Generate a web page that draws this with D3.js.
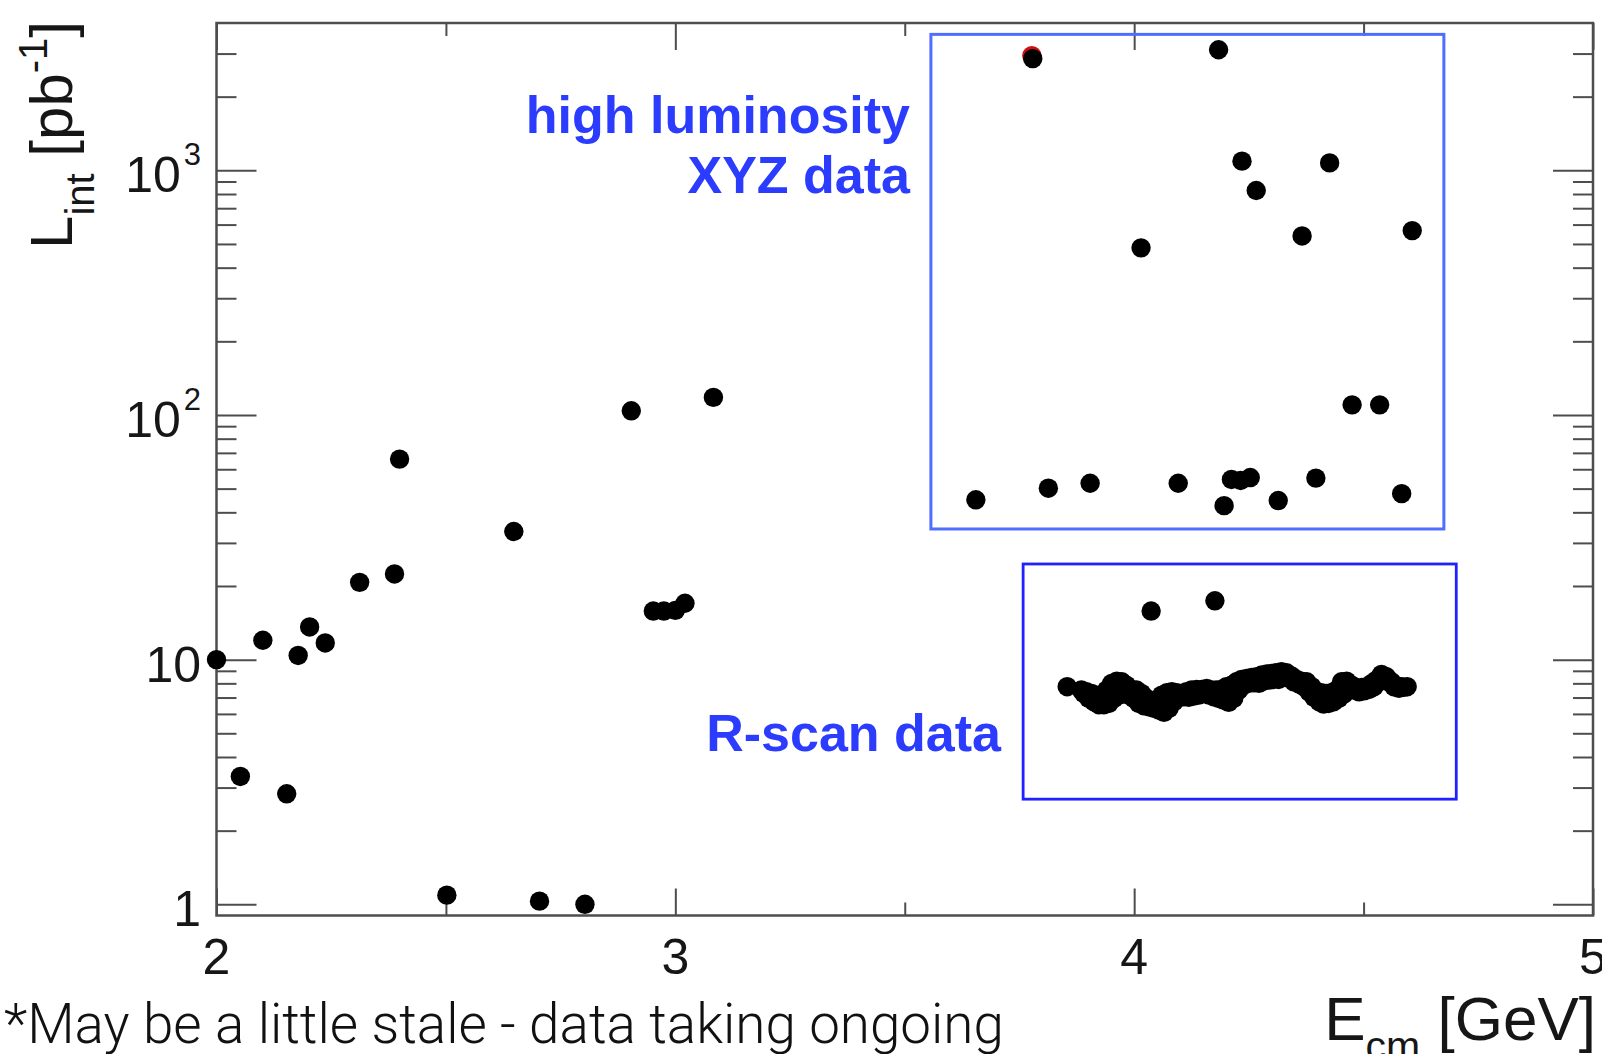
<!DOCTYPE html>
<html>
<head>
<meta charset="utf-8">
<script src="https://cdn.jsdelivr.net/npm/d3@7"></script>
<style>
  html, body { margin: 0; padding: 0; background: #fff; overflow: hidden; }
  svg { display: block; }
</style>
</head>
<body>
<svg id="chart" width="1602" height="1054"></svg>
<script>
// Integrated luminosity per centre-of-mass energy point (E in GeV, L in pb^-1)

// scan points between 2.0 and 3.1 GeV
const lowE = [2.000, 2.052, 2.101, 2.153, 2.178, 2.203, 2.237, 2.312, 2.388, 2.399,
              2.502, 2.648, 2.704, 2.803, 2.904, 2.952, 2.975, 3.000, 3.021, 3.083];
const lowL = [10.0, 3.33, 12.0, 2.83, 10.4, 13.6, 11.7, 20.7, 22.4, 66.0,
              1.09, 33.4, 1.03, 1.00, 104, 15.8, 15.8, 15.9, 17.0, 118];

// high-luminosity XYZ data sets
const xyzE = [3.655, 3.779, 3.813, 3.904, 4.015, 4.096, 4.184, 4.196, 4.212, 4.232,
              4.253, 4.235, 4.266, 4.314, 4.366, 4.396, 4.426, 4.475, 4.535, 4.583, 4.606];
const xyzL = [45.0, 2860, 50.2, 52.6, 482, 52.6, 3110, 42.6, 54.5, 54.0,
              55.5, 1090, 827, 44.7, 539, 55.2, 1072, 110, 110, 47.7, 567];

// marker drawn beneath the psi(3770) point
const redE = [3.777];
const redL = [2940];

// R-scan points, 3.85 - 4.60 GeV
const rScanE = [3.854,
  3.885, 3.890, 3.896, 3.901, 3.907, 3.912, 3.918, 3.923, 3.929, 3.934,
  3.940, 3.945, 3.951, 3.956, 3.962, 3.967, 3.973, 3.978, 3.983, 3.988,
  3.994, 3.999, 4.005, 4.010, 4.016, 4.021, 4.027, 4.032, 4.038, 4.043,
  4.049, 4.054, 4.060, 4.065, 4.071, 4.076, 4.082, 4.087, 4.093, 4.098,
  4.103, 4.108, 4.114, 4.119, 4.125, 4.130, 4.136, 4.141, 4.147, 4.152,
  4.158, 4.163, 4.169, 4.174, 4.179, 4.184, 4.190, 4.195, 4.201, 4.206,
  4.212, 4.217, 4.223, 4.228, 4.234, 4.239, 4.245, 4.250, 4.256, 4.261,
  4.267, 4.272, 4.278, 4.283, 4.289, 4.294, 4.299, 4.304, 4.310, 4.315,
  4.321, 4.326, 4.332, 4.337, 4.343, 4.348, 4.354, 4.359, 4.365, 4.370,
  4.376, 4.381, 4.387, 4.392, 4.398, 4.403, 4.408, 4.413, 4.419, 4.424,
  4.430, 4.435, 4.441, 4.446, 4.452, 4.457, 4.463, 4.468, 4.474, 4.479,
  4.485, 4.490, 4.496, 4.501, 4.507, 4.512, 4.518, 4.523, 4.528, 4.533,
  4.539, 4.544, 4.550, 4.555, 4.561, 4.566, 4.572, 4.577, 4.583, 4.588,
  4.595,
  4.037, 4.176];
const rScanL = [7.75,
  7.51, 7.28, 7.39, 6.94, 7.28, 6.73, 7.16, 6.54, 6.94, 6.54,
  7.51, 6.62, 8.00, 6.94, 8.17, 7.16, 8.12, 7.28, 7.87, 7.16,
  7.55, 6.94, 7.51, 6.62, 7.28, 6.48, 6.94, 6.42, 6.66, 6.32,
  6.83, 6.22, 7.16, 6.09, 7.32, 6.32, 7.39, 6.73, 7.32, 7.01,
  7.28, 7.05, 7.39, 7.01, 7.51, 7.10, 7.55, 7.16, 7.55, 7.28,
  7.63, 7.16, 7.51, 7.05, 7.51, 6.94, 7.55, 6.83, 7.75, 6.69,
  7.87, 6.94, 8.12, 7.51, 8.30, 7.87, 8.38, 8.00, 8.46, 8.05,
  8.51, 8.00, 8.65, 8.20, 8.73, 8.25, 8.79, 8.30, 8.84, 8.30,
  8.92, 8.51, 8.84, 8.38, 8.57, 8.12, 8.30, 7.95, 8.17, 7.75,
  8.12, 7.39, 7.75, 7.01, 7.39, 6.73, 7.32, 6.58, 7.28, 6.62,
  7.32, 6.73, 7.51, 6.94, 8.12, 7.23, 8.17, 7.51, 7.87, 7.51,
  7.51, 7.39, 7.70, 7.46, 7.75, 7.55, 8.00, 7.75, 8.25, 8.12,
  8.70, 8.46, 8.51, 8.12, 8.12, 7.75, 7.80, 7.63, 7.75, 7.70,
  7.75,
  15.8, 17.4];

// axis ticks
const eMajor = [2, 3, 4, 5];
const eMinor = [2.5, 3.5, 4.5];
const eTickLabels = ["2", "3", "4", "5"];
const lMajor = [1, 10, 100, 1000];
const lMinor = [2, 3, 4, 5, 6, 7, 8, 9, 20, 30, 40, 50, 60, 70, 80, 90,
                200, 300, 400, 500, 600, 700, 800, 900, 2000, 3000];
const lTickBase = ["1", "10", "10", "10"];
const lTickExp = ["", "", "2", "3"];

// highlighted regions [Emin, Emax, Lmin, Lmax]
const xyzRegion = [3.557, 4.675, 34.2, 3594];
const rScanRegion = [3.758, 4.702, 2.69, 24.6];

const FONT = "'Liberation Sans', Arial, Helvetica, sans-serif";
const INK = "#161616";
const AXIS = "#4d4d4d";

const svg = d3.select("#chart");
const x = d3.scaleLinear().domain([2, 5]).range([216.5, 1593]);
const y = d3.scaleLog().domain([0.9, 4000]).range([915.5, 23]);
const [x0, x1] = x.range();
const [yb, yt] = y.range();

// tick marks on all four sides
function ticks(axis, tx, ty) {
  const g = svg.append("g").attr("transform", `translate(${tx},${ty})`).call(axis);
  g.select(".domain").remove();
  g.selectAll(".tick text").remove();
  g.selectAll(".tick line").attr("stroke", AXIS).attr("stroke-width", 2);
}
ticks(d3.axisLeft(y).tickValues(lMajor).tickSizeInner(-40).tickSizeOuter(0), x0, 0);
ticks(d3.axisLeft(y).tickValues(lMinor).tickSizeInner(-20).tickSizeOuter(0), x0, 0);
ticks(d3.axisRight(y).tickValues(lMajor).tickSizeInner(-40).tickSizeOuter(0), x1, 0);
ticks(d3.axisRight(y).tickValues(lMinor).tickSizeInner(-20).tickSizeOuter(0), x1, 0);
ticks(d3.axisBottom(x).tickValues(eMajor).tickSizeInner(-27).tickSizeOuter(0), 0, yb);
ticks(d3.axisBottom(x).tickValues(eMinor).tickSizeInner(-13).tickSizeOuter(0), 0, yb);
ticks(d3.axisTop(x).tickValues(eMajor).tickSizeInner(-27).tickSizeOuter(0), 0, yt);
ticks(d3.axisTop(x).tickValues(eMinor).tickSizeInner(-13).tickSizeOuter(0), 0, yt);

// frame
svg.append("rect")
  .attr("x", x0).attr("y", yt)
  .attr("width", x1 - x0).attr("height", yb - yt)
  .attr("fill", "none").attr("stroke", AXIS).attr("stroke-width", 2.5);

// x tick labels
svg.append("g").selectAll("text").data(eMajor).join("text")
  .attr("x", d => x(d)).attr("y", 974)
  .attr("text-anchor", "middle")
  .attr("font-family", FONT).attr("font-size", 50).attr("fill", INK)
  .text((d, i) => eTickLabels[i]);

// y tick labels with powers of ten
const yl = svg.append("g").selectAll("text").data(lMajor).join("text")
  .attr("x", 201).attr("y", d => y(d) + 22)
  .attr("text-anchor", "end")
  .attr("font-family", FONT).attr("font-size", 50).attr("fill", INK);
yl.append("tspan").text((d, i) => lTickBase[i]);
yl.filter((d, i) => lTickExp[i] !== "")
  .append("tspan").attr("dx", 3).attr("dy", -27).attr("font-size", 31)
  .text(d => lTickExp[lMajor.indexOf(d)]);

// axis titles
const yTitle = svg.append("text")
  .attr("transform", "translate(72,21) rotate(-90)")
  .attr("text-anchor", "end")
  .attr("font-family", FONT).attr("font-size", 60).attr("fill", INK);
yTitle.append("tspan").text("L");
yTitle.append("tspan").attr("dy", 22).attr("font-size", 40).text("int");
yTitle.append("tspan").attr("dy", -22).text("\u00a0[pb");
yTitle.append("tspan").attr("dy", -25).attr("font-size", 40).text("-1");
yTitle.append("tspan").attr("dy", 25).text("]");

const xTitle = svg.append("text")
  .attr("x", 1596).attr("y", 1040)
  .attr("text-anchor", "end")
  .attr("font-family", FONT).attr("font-size", 62).attr("fill", INK);
xTitle.append("tspan").text("E");
xTitle.append("tspan").attr("dy", 20).attr("font-size", 41).text("cm");
xTitle.append("tspan").attr("dy", -20).text("\u00a0[GeV]");

// region boxes
function region(r, colour, width) {
  svg.append("rect")
    .attr("x", x(r[0])).attr("y", y(r[3]))
    .attr("width", x(r[1]) - x(r[0])).attr("height", y(r[2]) - y(r[3]))
    .attr("fill", "none").attr("stroke", colour).attr("stroke-width", width);
}
region(xyzRegion, "#4f6dff", 3);
region(rScanRegion, "#1f22ff", 2.8);

// data markers
const R = 9.7;
function points(es, ls, colour) {
  svg.append("g").selectAll("circle").data(es).join("circle")
    .attr("cx", d => x(d)).attr("cy", (d, i) => y(ls[i]))
    .attr("r", R).attr("fill", colour);
}
points(redE, redL, "#d01010");
points(lowE, lowL, "#000");
points(xyzE, xyzL, "#000");
points(rScanE, rScanL, "#000");

// region labels
const BLUE = "#2b3cff";
function label(txt, lx, ly) {
  svg.append("text").attr("x", lx).attr("y", ly)
    .attr("text-anchor", "end")
    .attr("font-family", FONT).attr("font-weight", "bold").attr("font-size", 52)
    .attr("fill", BLUE).text(txt);
}
label("high luminosity", 910, 133);
label("XYZ data", 910, 193);
label("R-scan data", 1001, 751);

// footnote
const note = svg.append("text")
  .attr("x", 4).attr("y", 1043)
  .attr("font-family", "Roboto, 'Open Sans', Lato, sans-serif")
  .attr("font-weight", 300).attr("font-size", 58).attr("fill", "#111")
  .text("*May be a little stale - data taking ongoing");
const w = note.node().getComputedTextLength();
note.attr("font-size", 58 * 1000 / w);
</script>
</body>
</html>
